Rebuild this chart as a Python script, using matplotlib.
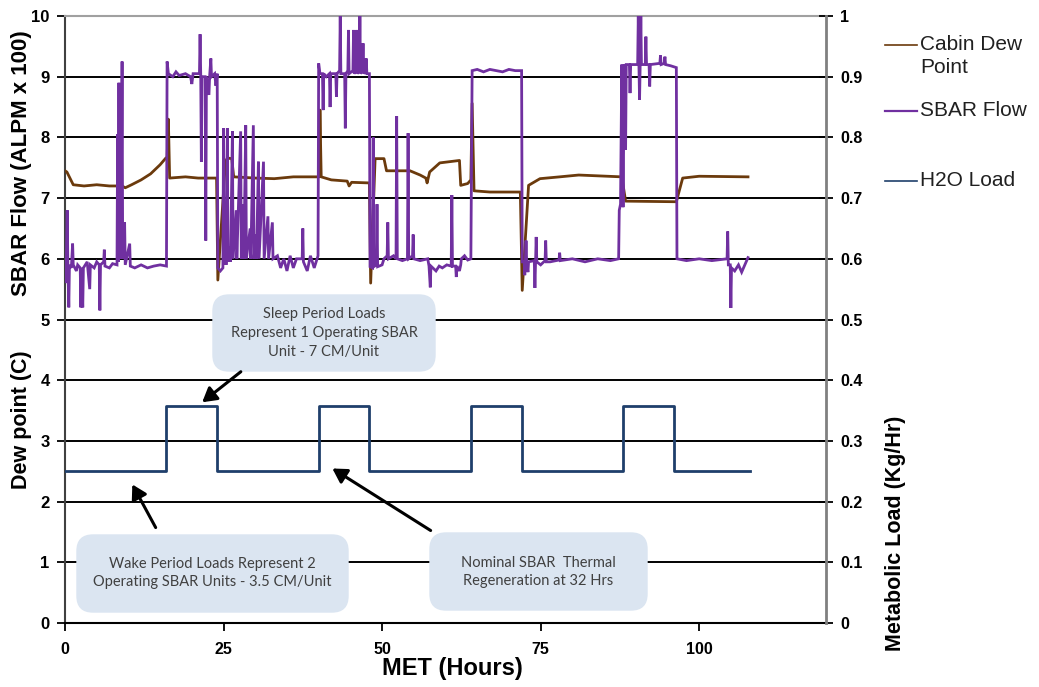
import matplotlib
matplotlib.use("Agg")
import matplotlib.pyplot as plt
from matplotlib.patches import FancyBboxPatch, FancyArrowPatch
from matplotlib.lines import Line2D

# ---------------- data ----------------
# SBAR flow (ALPM x 100) as (MET hours, value) readings
flow_pts = [
    (0.0, 5.85), (0.1, 5.6), (0.2, 5.9), (0.35, 6.8), (0.45, 5.9), (0.6, 5.2), (0.7, 5.9), (1.0, 5.85),
    (1.2, 6.25), (1.3, 5.9), (1.8, 5.8), (2.0, 5.9), (2.4, 5.85), (2.5, 5.2), (2.6, 5.85), (2.8, 5.2),
    (2.9, 5.85), (3.5, 5.95), (3.9, 5.5), (4.0, 5.9), (4.6, 5.85), (5.0, 5.95), (5.4, 5.9), (5.5, 5.15),
    (5.6, 5.9), (6.1, 5.95), (6.2, 6.15), (6.3, 5.88), (7.0, 5.85), (7.5, 5.92), (8.2, 5.9), (8.3, 8.05),
    (8.4, 5.95), (8.5, 8.9), (8.6, 6.0), (8.75, 6.3), (8.85, 6.0), (9.0, 9.25), (9.1, 6.0), (9.4, 6.6),
    (9.5, 5.9), (10.2, 6.25), (10.3, 5.88), (11.0, 5.85), (12.0, 5.9), (13.0, 5.85), (14.0, 5.88),
    (15.0, 5.9), (16.0, 5.88),
    (16.1, 9.25), (16.3, 9.05), (17.0, 9.0), (17.5, 9.08), (18.0, 9.02), (19.0, 9.05), (19.8, 9.0),
    (20.0, 8.88), (20.2, 9.05), (21.2, 9.05), (21.3, 9.7), (21.4, 9.05), (21.5, 7.6), (21.6, 9.0),
    (22.1, 9.0), (22.2, 6.3), (22.3, 9.0), (22.7, 8.7), (22.8, 9.0), (23.0, 9.3), (23.1, 9.0),
    (23.6, 9.05), (23.8, 8.85), (24.0, 9.05),
    (24.1, 5.85), (24.5, 5.8), (24.9, 5.85), (25.0, 8.15), (25.1, 5.9), (25.3, 6.7), (25.4, 5.9),
    (25.6, 8.15), (25.7, 5.95), (26.0, 6.2), (26.1, 5.95), (26.4, 8.1), (26.5, 6.0), (27.0, 6.8),
    (27.1, 6.0), (27.7, 8.1), (27.8, 6.0), (28.1, 6.9), (28.2, 6.0), (28.5, 8.2), (28.6, 6.0),
    (29.2, 6.5), (29.3, 6.0), (29.7, 8.2), (29.8, 6.0), (30.1, 6.4), (30.2, 6.0), (30.5, 7.6),
    (30.6, 6.0), (31.3, 7.6), (31.4, 6.0), (32.0, 6.7), (32.1, 6.0), (32.7, 6.6), (32.8, 6.0),
    (33.5, 6.05), (34.0, 5.85), (34.5, 6.0), (35.0, 5.8), (35.5, 6.05), (36.0, 5.85), (36.5, 6.0),
    (37.4, 6.0), (37.5, 6.5), (37.6, 5.95), (38.2, 5.8), (38.7, 6.05), (39.3, 5.85), (39.9, 6.05),
    (40.0, 9.22), (40.2, 9.05), (40.6, 9.05), (40.7, 8.45), (40.8, 9.05), (41.2, 9.0), (41.7, 9.05),
    (41.8, 8.5), (41.9, 9.05), (42.7, 9.05), (42.8, 8.67), (42.9, 9.05), (43.3, 9.1), (43.4, 10.0),
    (43.5, 9.05), (44.1, 9.05), (44.2, 8.15), (44.3, 9.05), (44.6, 9.1), (44.7, 9.77), (44.8, 9.05),
    (45.4, 9.1), (45.5, 9.77), (45.6, 9.05), (45.9, 9.1), (46.0, 9.77), (46.1, 9.05), (46.4, 9.1),
    (46.5, 10.0), (46.6, 9.05), (46.9, 9.1), (47.0, 9.55), (47.1, 9.05), (47.4, 9.1), (47.5, 9.3),
    (47.6, 9.05), (48.0, 9.05),
    (48.1, 5.87), (48.5, 5.85), (48.6, 8.0), (48.7, 5.87), (49.1, 5.9), (49.2, 6.9), (49.3, 5.87),
    (50.0, 5.9), (50.3, 6.0), (50.8, 6.05), (50.9, 6.6), (51.0, 6.0), (51.8, 6.05), (52.2, 6.0),
    (52.3, 8.35), (52.4, 6.0), (53.2, 5.97), (54.0, 6.0), (54.1, 8.07), (54.2, 6.0), (54.8, 6.05),
    (54.9, 6.4), (55.0, 6.0), (56.0, 5.97), (57.2, 6.0), (57.4, 5.88), (57.6, 5.53), (57.7, 5.88),
    (58.5, 5.8), (59.0, 5.88), (59.5, 5.85), (60.2, 5.9), (60.9, 5.88), (61.0, 7.05), (61.1, 5.88),
    (61.6, 5.88), (61.7, 5.7), (61.8, 5.88), (62.2, 5.8), (62.4, 5.9), (62.5, 6.0), (63.0, 6.05),
    (63.5, 5.98), (64.0, 6.0),
    (64.2, 9.1), (65.0, 9.12), (66.0, 9.08), (67.0, 9.12), (68.0, 9.1), (69.0, 9.08), (70.0, 9.12),
    (71.0, 9.1), (72.0, 9.1),
    (72.1, 5.95), (72.4, 5.95), (72.5, 5.73), (72.6, 5.95), (72.7, 6.3), (72.8, 5.95), (73.0, 5.78),
    (73.1, 5.95), (74.0, 5.97), (74.1, 5.52), (74.2, 5.97), (74.3, 6.36), (74.4, 5.95), (75.0, 5.9),
    (75.7, 5.97), (75.8, 6.3), (75.9, 5.95), (76.5, 5.95), (77.9, 5.98), (78.0, 6.1), (78.1, 5.97),
    (80.0, 6.0), (82.0, 5.95), (84.0, 6.0), (86.0, 5.97), (87.3, 6.0),
    (87.4, 6.8), (87.6, 6.9), (87.8, 9.2), (88.0, 6.85), (88.2, 9.2), (88.4, 7.8), (88.5, 9.2),
    (89.0, 9.2), (89.1, 8.73), (89.2, 9.2), (90.3, 9.2), (90.4, 10.0), (90.5, 9.2), (90.6, 8.62),
    (90.7, 9.2), (90.8, 10.0), (90.9, 9.2), (91.5, 9.2), (91.6, 9.66), (91.7, 9.2), (92.1, 9.2),
    (92.2, 8.84), (92.3, 9.2), (93.8, 9.22), (93.9, 9.35), (94.0, 9.2), (94.5, 9.22), (94.6, 9.33),
    (94.7, 9.2), (95.5, 9.18), (96.4, 9.15),
    (96.5, 6.0), (98.0, 5.97), (100.0, 6.0), (102.0, 5.97), (104.4, 6.0), (104.5, 6.45), (104.6, 5.9),
    (104.9, 5.9), (105.0, 5.19), (105.1, 5.85), (105.6, 5.8), (106.2, 5.9), (106.7, 5.78),
    (107.2, 5.9), (107.7, 6.02),
]
flow_t = [p[0] for p in flow_pts]
flow_v = [p[1] for p in flow_pts]

# Cabin dew point (C)
dew_t = [0.0, 0.3, 1.3, 3.0, 5.0, 7.0, 9.0, 9.5, 10.5, 12.0, 13.5, 15.0, 15.9, 16.1, 16.3, 16.5,
         19.0, 21.0, 23.9, 24.1, 25.3, 25.6, 26.3, 26.6, 30.0, 33.0, 36.0, 40.1, 40.2, 40.4, 42.0,
         44.5, 44.8, 45.2, 48.0, 48.2, 48.9, 50.3, 50.7, 54.4, 56.0, 56.9, 57.1, 57.5, 59.1, 62.2,
         62.4, 63.5, 64.0, 64.2, 64.5, 67.0, 71.8, 72.1, 73.1, 74.9, 78.0, 81.0, 87.8, 88.4, 96.4,
         97.4, 100.0, 107.7]
dew_v = [7.45, 7.43, 7.22, 7.2, 7.22, 7.2, 7.2, 7.17, 7.22, 7.3, 7.4, 7.55, 7.66, 7.66, 8.3, 7.33,
         7.35, 7.33, 7.33, 5.65, 7.6, 7.66, 7.65, 7.35, 7.33, 7.32, 7.35, 7.35, 8.45, 7.35, 7.3,
         7.28, 7.2, 7.26, 7.25, 5.6, 7.65, 7.65, 7.45, 7.45, 7.38, 7.33, 7.25, 7.43, 7.58, 7.62,
         7.21, 7.24, 7.3, 8.56, 7.12, 7.1, 7.1, 5.48, 7.21, 7.32, 7.35, 7.38, 7.35, 6.95, 6.94,
         7.33, 7.36, 7.35]

# H2O metabolic load (Kg/Hr), step changes
load_t = [0, 16, 24, 40, 48, 64, 72, 88, 96, 108]
load_v = [0.25, 0.357, 0.25, 0.357, 0.25, 0.357, 0.25, 0.357, 0.25, 0.25]

x_ticks = [0, 25, 50, 75, 100]
left_ticks = list(range(0, 11))
right_ticks = [0, 0.1, 0.2, 0.3, 0.4, 0.5, 0.6, 0.7, 0.8, 0.9, 1.0]
right_labels = ["0", "0.1", "0.2", "0.3", "0.4", "0.5", "0.6", "0.7", "0.8", "0.9", "1"]
legend_labels = ["Cabin Dew\nPoint", "SBAR Flow", "H2O Load"]

# ---------------- style ----------------
C_DEW = "#6b3a0c"
C_FLOW = "#7030a0"
C_LOAD = "#1f3f6b"
FONT = "Liberation Sans"
plt.rcParams["font.family"] = [FONT, "DejaVu Sans"]

W, H = 1039, 687
fig = plt.figure(figsize=(W / 100, H / 100), dpi=100)
ax = fig.add_axes([65 / W, 1 - 623 / H, 761 / W, 607 / H])
ax2 = ax.twinx()

ax.set_xlim(0, 120)
ax.set_ylim(0, 10)
ax2.set_ylim(0, 1)

for yv in left_ticks[1:10]:
    ax.axhline(yv, color="black", lw=1.4, zorder=1)

ax.plot(dew_t, dew_v, color=C_DEW, lw=2.0, zorder=3)
ax.plot(flow_t, flow_v, color=C_FLOW, lw=2.0, zorder=4, solid_joinstyle="miter")
ax2.plot(load_t, load_v, color=C_LOAD, lw=2.0, drawstyle="steps-post", zorder=3)

ax.set_xticks(x_ticks)
ax.set_yticks(left_ticks)
ax2.set_yticks(right_ticks)
ax2.set_yticklabels(right_labels)

for a in (ax, ax2):
    for s in a.spines.values():
        s.set_visible(False)
ax.spines["left"].set_visible(True)
ax.spines["left"].set_color("#404040")
ax.spines["left"].set_linewidth(1.5)
ax.spines["bottom"].set_visible(True)
ax.spines["bottom"].set_color("black")
ax.spines["bottom"].set_linewidth(1.5)
ax.spines["top"].set_visible(True)
ax.spines["top"].set_color("#a0a0a0")
ax.spines["top"].set_linewidth(1.5)
ax2.spines["right"].set_visible(True)
ax2.spines["right"].set_color("#808080")
ax2.spines["right"].set_linewidth(2.0)

ax.tick_params(axis="y", direction="out", length=6, width=1.3, pad=5, labelsize=12)
ax.tick_params(axis="x", direction="out", length=6, width=1.3, pad=8, labelsize=11.5)
ax2.tick_params(axis="y", direction="inout", length=10, width=1.3, pad=5, labelsize=11.5)
for lab in ax.get_xticklabels() + ax.get_yticklabels() + ax2.get_yticklabels():
    lab.set_fontweight("bold")

# axis titles
fig.text(22 / W, 1 - 163 / H, "SBAR Flow (ALPM x 100)", rotation=90, ha="center", va="center",
         fontsize=16, fontweight="bold")
fig.text(22 / W, 1 - 420 / H, "Dew point (C)", rotation=90, ha="center", va="center",
         fontsize=15.5, fontweight="bold")
fig.text(895 / W, 1 - 533 / H, "Metabolic Load (Kg/Hr)", rotation=90, ha="center", va="center",
         fontsize=15.5, fontweight="bold")
fig.text(452 / W, 1 - 668 / H, "MET (Hours)", ha="center", va="center",
         fontsize=17, fontweight="bold")

# legend (drawn manually at the right)
leg_y = [45, 111, 181]
leg_c = [C_DEW, C_FLOW, C_LOAD]
leg_w = [1.2, 1.6, 1.2]
for yy, cc, lw, lab in zip(leg_y, leg_c, leg_w, legend_labels):
    fig.add_artist(Line2D([885 / W, 917 / W], [1 - yy / H, 1 - yy / H], color=cc, lw=lw))
    fig.text(920 / W, 1 - (yy - 10) / H, lab, ha="left", va="top", fontsize=15,
             linespacing=1.25, color="#202020")

# annotation boxes (in inches from bottom-left: pixel / 100)
def box(x0, y0, x1, y1):
    p = FancyBboxPatch((x0 / 100, (H - y1) / 100), (x1 - x0) / 100, (y1 - y0) / 100,
                       boxstyle="round,pad=0,rounding_size=0.16",
                       transform=fig.dpi_scale_trans, facecolor="#dbe5f1",
                       edgecolor="#dbe5f1", lw=1, zorder=10)
    fig.add_artist(p)

def arrow(x0, y0, x1, y1):
    fig.add_artist(FancyArrowPatch(
        (x0 / 100, (H - y0) / 100), (x1 / 100, (H - y1) / 100),
        transform=fig.dpi_scale_trans, arrowstyle="-|>,head_length=0.6,head_width=0.35",
        mutation_scale=14, color="black", lw=2.2, zorder=11))

ann_font = ["Lato", "DejaVu Sans"]
box(213, 295, 435, 371)
fig.text(324 / W, 1 - 333 / H, "Sleep Period Loads\nRepresent 1 Operating SBAR\nUnit - 7 CM/Unit",
         ha="center", va="center", fontsize=10.5, color="#404040", family=ann_font,
         linespacing=1.45, zorder=12)
arrow(243, 370, 200, 404)

box(77, 535, 348, 612)
fig.text(212 / W, 1 - 573 / H, "Wake Period Loads Represent 2\nOperating SBAR Units - 3.5 CM/Unit",
         ha="center", va="center", fontsize=10.5, color="#404040", family=ann_font,
         linespacing=1.45, zorder=12)
arrow(157, 530, 131, 482)

box(430, 533, 647, 610)
fig.text(538 / W, 1 - 572 / H, "Nominal SBAR  Thermal\nRegeneration at 32 Hrs",
         ha="center", va="center", fontsize=10.5, color="#404040", family=ann_font,
         linespacing=1.45, zorder=12)
arrow(433, 532, 330, 467)

fig.savefig("out.png", dpi=100)
